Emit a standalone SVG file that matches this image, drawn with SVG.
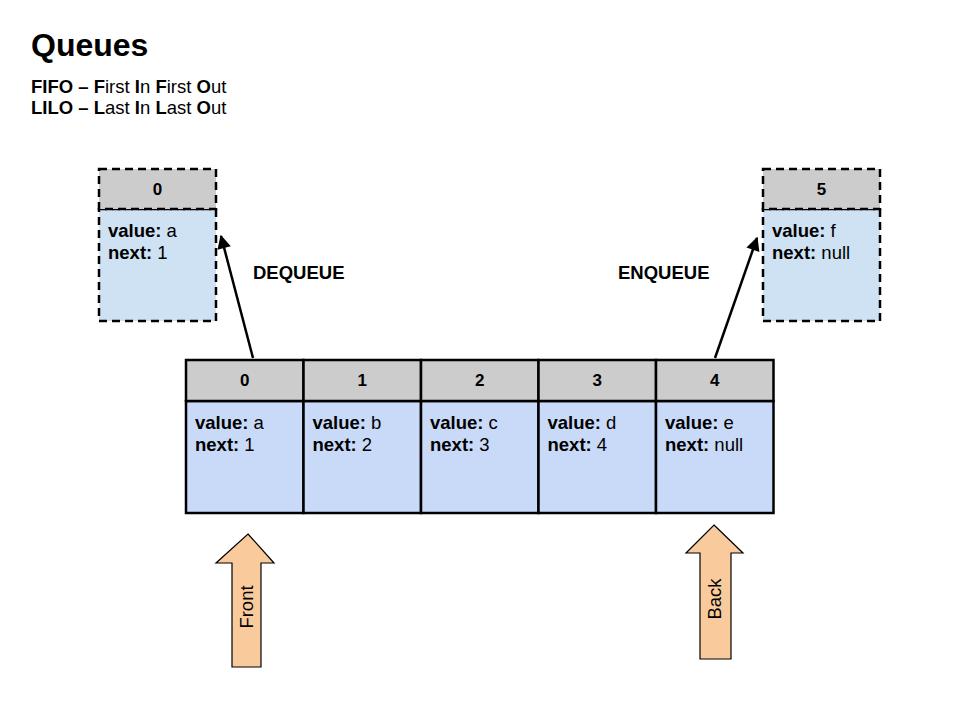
<svg xmlns="http://www.w3.org/2000/svg" width="960" height="720" viewBox="0 0 960 720">
<defs>
<style>
text{font-family:"Liberation Sans",Arial,sans-serif;fill:#000}
.t{font-size:32px;font-weight:bold}
.s{font-size:18.5px}
.b{font-weight:bold}
.hd{fill:#cccccc;stroke:#000;stroke-width:2.5}
.bd{fill:#c9daf8;stroke:#000;stroke-width:2.5}
.dhd{fill:#cccccc;stroke:#000;stroke-width:2.5;stroke-dasharray:8,5}
.dbd{fill:#cfe2f3;stroke:#000;stroke-width:2.5;stroke-dasharray:8,5}
.num{font-size:17px;font-weight:bold;text-anchor:middle}
.lbl{font-size:18.5px;font-weight:bold}
.blk{fill:#f9cb9c;stroke:#000;stroke-width:1.2}
.con{stroke:#000;stroke-width:2.5;fill:none}
</style>
<marker id="ah" viewBox="0 0 10 10" refX="9" refY="5" markerWidth="6" markerHeight="5.5" orient="auto" markerUnits="strokeWidth">
<path d="M0,0 L10,5 L0,10 z" fill="#000"/>
</marker>
</defs>
<rect width="960" height="720" fill="#fff"/>
<text class="t" x="31" y="56">Queues</text>
<text class="s" x="31" y="93"><tspan class="b">FIFO – F</tspan>irst <tspan class="b">I</tspan>n <tspan class="b">F</tspan>irst <tspan class="b">O</tspan>ut</text>
<text class="s" x="31" y="114"><tspan class="b">LILO – L</tspan>ast <tspan class="b">I</tspan>n <tspan class="b">L</tspan>ast <tspan class="b">O</tspan>ut</text>

<g id="deq-node">
<rect class="dbd" x="99" y="209" width="117" height="112"/>
<rect class="dhd" x="99" y="169" width="117" height="40"/>
<text class="num" x="157.5" y="195">0</text>
<text class="s" x="108" y="237"><tspan class="b">value:</tspan> a</text>
<text class="s" x="108" y="259"><tspan class="b">next:</tspan> 1</text>
</g>
<g id="enq-node">
<rect class="dbd" x="763" y="209" width="117" height="112"/>
<rect class="dhd" x="763" y="169" width="117" height="40"/>
<text class="num" x="821.5" y="195">5</text>
<text class="s" x="772" y="237"><tspan class="b">value:</tspan> f</text>
<text class="s" x="772" y="259"><tspan class="b">next:</tspan> null</text>
</g>

<g id="cell0">
<rect class="bd" x="186" y="401" width="117.5" height="112"/>
<rect class="hd" x="186" y="360" width="117.5" height="41"/>
<text class="num" x="244.75" y="386">0</text>
<text class="s" x="195" y="429"><tspan class="b">value:</tspan> a</text>
<text class="s" x="195" y="451"><tspan class="b">next:</tspan> 1</text>
</g>
<g id="cell1">
<rect class="bd" x="303.5" y="401" width="117.5" height="112"/>
<rect class="hd" x="303.5" y="360" width="117.5" height="41"/>
<text class="num" x="362.25" y="386">1</text>
<text class="s" x="312.5" y="429"><tspan class="b">value:</tspan> b</text>
<text class="s" x="312.5" y="451"><tspan class="b">next:</tspan> 2</text>
</g>
<g id="cell2">
<rect class="bd" x="421" y="401" width="117.5" height="112"/>
<rect class="hd" x="421" y="360" width="117.5" height="41"/>
<text class="num" x="479.75" y="386">2</text>
<text class="s" x="430" y="429"><tspan class="b">value:</tspan> c</text>
<text class="s" x="430" y="451"><tspan class="b">next:</tspan> 3</text>
</g>
<g id="cell3">
<rect class="bd" x="538.5" y="401" width="117.5" height="112"/>
<rect class="hd" x="538.5" y="360" width="117.5" height="41"/>
<text class="num" x="597.25" y="386">3</text>
<text class="s" x="547.5" y="429"><tspan class="b">value:</tspan> d</text>
<text class="s" x="547.5" y="451"><tspan class="b">next:</tspan> 4</text>
</g>
<g id="cell4">
<rect class="bd" x="656" y="401" width="117.5" height="112"/>
<rect class="hd" x="656" y="360" width="117.5" height="41"/>
<text class="num" x="714.75" y="386">4</text>
<text class="s" x="665" y="429"><tspan class="b">value:</tspan> e</text>
<text class="s" x="665" y="451"><tspan class="b">next:</tspan> null</text>
</g>

<g id="connectors">
<line class="con" x1="253" y1="358" x2="221" y2="236" marker-end="url(#ah)"/>
<line class="con" x1="715" y1="358" x2="757" y2="238" marker-end="url(#ah)"/>
<text class="lbl" x="253" y="279">DEQUEUE</text>
<text class="lbl" x="618" y="279">ENQUEUE</text>
</g>

<g id="front">
<path class="blk" d="M248,534 L274,563 L261,563 L261,667 L232,667 L232,563 L216,563 Z"/>
<text class="s" transform="translate(253,607) rotate(-90)" text-anchor="middle">Front</text>
</g>
<g id="back">
<path class="blk" d="M714,525 L743,553 L731,553 L731,659 L700,659 L700,553 L686,553 Z"/>
<text class="s" transform="translate(721,599) rotate(-90)" text-anchor="middle">Back</text>
</g>
</svg>
